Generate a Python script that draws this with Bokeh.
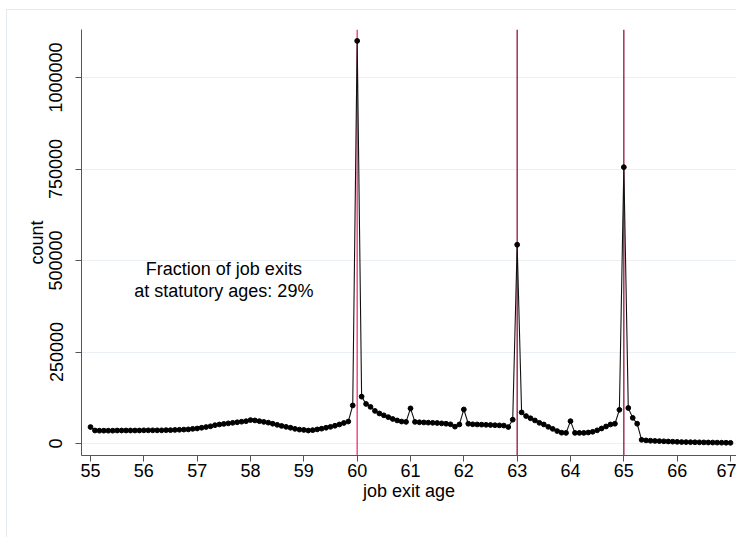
import math
import numpy as np
from bokeh.plotting import figure
from bokeh.models import Range1d, FixedTicker, Span, ColumnDataSource
from bokeh.core.properties import value
from bokeh.embed import file_html
from bokeh.resources import INLINE

# ---- data: monthly job exit counts, ages 55.00 .. 67.00 ----
counts_55 = [45000, 35500, 35000, 35000, 35000, 35000, 35500, 35500, 35500, 35500, 35500, 35500]
counts_56 = [36000, 36000, 36000, 36000, 36000, 36500, 36500, 37000, 37500, 38000, 38500, 40000]
counts_57 = [41000, 43000, 45000, 47000, 50000, 52000, 53500, 55000, 56500, 58000, 59500, 61000]
counts_58 = [64000, 63000, 61000, 59000, 57000, 54000, 51000, 48000, 45500, 43000, 40000, 38000]
counts_59 = [37000, 35500, 36500, 38500, 40500, 43000, 45500, 48500, 52000, 56000, 60000, 104000]
counts_60 = [1100000, 128000, 108000, 100000, 89000, 82000, 77000, 72000, 67000, 63000, 60000, 59000]
counts_61 = [96000, 59000, 58000, 57500, 57000, 56500, 56000, 55000, 54000, 52500, 46000, 52000]
counts_62 = [93000, 54000, 52500, 52000, 51500, 51000, 50500, 50000, 49500, 49000, 45000, 65000]
counts_63 = [543000, 85000, 75000, 69000, 63000, 56500, 52000, 45500, 40000, 34000, 29500, 29000]
counts_64 = [61000, 29000, 29000, 29000, 30000, 32000, 36000, 41000, 46500, 52000, 54000, 92000]
counts_65 = [755000, 97000, 70000, 54000, 10000, 8500, 7500, 7000, 6500, 6000, 5500, 5000]
counts_66 = [4500, 4000, 3800, 3600, 3400, 3200, 3000, 2800, 2600, 2400, 2200, 2000]
counts_67 = [1800]

counts = (counts_55 + counts_56 + counts_57 + counts_58 + counts_59 + counts_60 +
          counts_61 + counts_62 + counts_63 + counts_64 + counts_65 + counts_66 + counts_67)
ages = [55 + i / 12 for i in range(len(counts))]

statutory_ages = [60, 63, 65]
statutory_colors = ["#f0306a", "#9b1239", "#9b1239"]

x_ticks = list(range(55, 68))
y_ticks = [0, 250000, 500000, 750000, 1000000]
y_tick_labels = ["0", "250000", "500000", "750000", "1000000"]

note_lines = ["Fraction of job exits", "at statutory ages: 29%"]

FONT = "Liberation Sans"

p = figure(
    frame_width=655, frame_height=426,
    min_border_left=74, min_border_right=0, min_border_top=19, min_border_bottom=82,
    x_range=Range1d(54.831, 67.1125), y_range=Range1d(-32787, 1131148),
    output_backend="svg", toolbar_location=None,
    background_fill_color="white", border_fill_color="white",
)
p.outline_line_color = None
# faint outer graph-region frame (left and top edges visible in the reference)
p.styles = {"margin-left": "6px", "margin-top": "9px",
            "border-left": "1px solid #e4eaee", "border-top": "1px solid #e4eaee"}

# grid
p.xgrid.grid_line_color = None
p.ygrid.ticker = FixedTicker(ticks=y_ticks)
p.ygrid.grid_line_color = "#eaf0f3"
p.ygrid.grid_line_width = 1

# axes
p.xaxis.ticker = FixedTicker(ticks=x_ticks)
p.yaxis.ticker = FixedTicker(ticks=y_ticks)
p.yaxis.major_label_overrides = {t: l for t, l in zip(y_ticks, y_tick_labels)}
p.xaxis.major_label_overrides = {t: str(t) for t in x_ticks}
p.yaxis.major_label_orientation = "parallel"
for ax in (p.xaxis, p.yaxis):
    ax.axis_line_color = "#555555"
    ax.major_tick_line_color = "#555555"
    ax.major_tick_out = 6
    ax.major_tick_in = 0
    ax.minor_tick_line_color = None
    ax.major_label_text_font = FONT
    ax.major_label_text_font_size = "18px"
    ax.major_label_text_color = "black"
    ax.axis_label_text_font = FONT
    ax.axis_label_text_font_size = "18px"
    ax.axis_label_text_font_style = "normal"
    ax.axis_label_text_color = "black"
p.xaxis.major_label_standoff = 2
p.yaxis.major_label_standoff = 13
p.xaxis.axis_label = "job exit age"
p.yaxis.axis_label = "count"
p.xaxis.axis_label_standoff = 1
p.yaxis.axis_label_standoff = 0

# statutory age lines
for a, c in zip(statutory_ages, statutory_colors):
    p.add_layout(Span(location=a, dimension="height", line_color=c, line_width=1.3, level="underlay"))

src = ColumnDataSource(dict(age=ages, count=counts))
p.line("age", "count", source=src, line_color="#111111", line_width=1.1)
p.scatter("age", "count", source=src, size=4.8, fill_color="black", line_color="black")

# note
p.text(x=[57.5, 57.5], y=[478000, 418000], text=note_lines,
       text_align="center", text_baseline="middle",
       text_font=value(FONT), text_font_size="18px", text_color="black")

open("out.html", "w").write(file_html(p, INLINE))
